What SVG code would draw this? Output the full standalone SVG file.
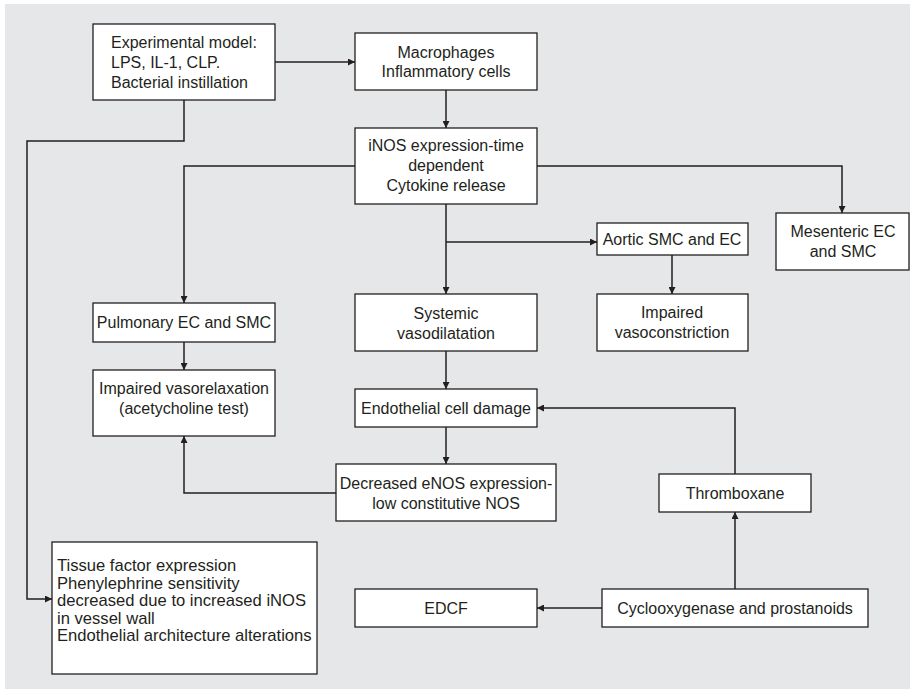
<svg xmlns="http://www.w3.org/2000/svg" width="910" height="689" viewBox="0 0 910 689">
<style>
.box{fill:#fff;stroke:#231f20;stroke-width:1.3}
.t{font-family:"Liberation Sans",Arial,sans-serif;font-size:16px;fill:#231f20}
.c{text-anchor:middle}
.big{font-size:16.6px}
.ln{fill:none;stroke:#231f20;stroke-width:1.5}
</style>
<defs>
<marker id="ah" viewBox="0 0 10 10" refX="10" refY="5" markerWidth="9" markerHeight="7" markerUnits="userSpaceOnUse" orient="auto">
<path d="M0,0 L10,5 L0,10 z" fill="#231f20"/>
</marker>
</defs>
<rect x="0" y="0" width="910" height="689" fill="#fff"/>
<rect x="5" y="4" width="905" height="685" fill="#e6e7e8"/>
<g id="connectors">
<path class="ln" d="M275,62 H355" marker-end="url(#ah)"/>
<path class="ln" d="M446,90 V128" marker-end="url(#ah)"/>
<path class="ln" d="M537,166 H842 V213" marker-end="url(#ah)"/>
<path class="ln" d="M355,166 H184 V303" marker-end="url(#ah)"/>
<path class="ln" d="M446,204 V294" marker-end="url(#ah)"/>
<path class="ln" d="M446,242 H597" marker-end="url(#ah)"/>
<path class="ln" d="M672,255 V294" marker-end="url(#ah)"/>
<path class="ln" d="M184,342 V370" marker-end="url(#ah)"/>
<path class="ln" d="M446,351 V389" marker-end="url(#ah)"/>
<path class="ln" d="M446,427 V464" marker-end="url(#ah)"/>
<path class="ln" d="M336,493 H184 V436" marker-end="url(#ah)"/>
<path class="ln" d="M735,474 V408 H537" marker-end="url(#ah)"/>
<path class="ln" d="M735,589 V512" marker-end="url(#ah)"/>
<path class="ln" d="M602,608 H537" marker-end="url(#ah)"/>
<path class="ln" d="M184,100 V141 H27 V599 H52" marker-end="url(#ah)"/>
</g>
<g id="experimental">
<rect class="box" x="93" y="24" width="182" height="76"/>
<text class="t" x="111" y="48">Experimental model:</text>
<text class="t" x="111" y="68">LPS, IL-1, CLP.</text>
<text class="t" x="111" y="88">Bacterial instillation</text>
</g>
<g id="macrophages">
<rect class="box" x="355" y="33" width="182" height="57"/>
<text class="t c" x="446" y="58">Macrophages</text>
<text class="t c" x="446" y="77">Inflammatory cells</text>
</g>
<g id="inos">
<rect class="box" x="355" y="128" width="182" height="76"/>
<text class="t c" x="446" y="151">iNOS expression-time</text>
<text class="t c" x="446" y="171">dependent</text>
<text class="t c" x="446" y="191">Cytokine release</text>
</g>
<g id="mesenteric">
<rect class="box" x="776" y="213" width="133" height="57"/>
<text class="t c" x="843" y="237">Mesenteric EC</text>
<text class="t c" x="843" y="257">and SMC</text>
</g>
<g id="aortic">
<rect class="box" x="597" y="223" width="151" height="32"/>
<text class="t c" x="672" y="245">Aortic SMC and EC</text>
</g>
<g id="impaired-vasoconstriction">
<rect class="box" x="597" y="294" width="151" height="57"/>
<text class="t c" x="672" y="318">Impaired</text>
<text class="t c" x="672" y="338">vasoconstriction</text>
</g>
<g id="systemic">
<rect class="box" x="355" y="294" width="182" height="57"/>
<text class="t c" x="446" y="319">Systemic</text>
<text class="t c" x="446" y="339">vasodilatation</text>
</g>
<g id="pulmonary">
<rect class="box" x="93" y="303" width="182" height="39"/>
<text class="t c" x="184" y="328">Pulmonary EC and SMC</text>
</g>
<g id="impaired-vasorelaxation">
<rect class="box" x="93" y="370" width="182" height="66"/>
<text class="t c" x="184" y="394">Impaired vasorelaxation</text>
<text class="t c" x="184" y="414">(acetycholine test)</text>
</g>
<g id="endothelial">
<rect class="box" x="355" y="389" width="182" height="38"/>
<text class="t c" x="446" y="414">Endothelial cell damage</text>
</g>
<g id="decreased">
<rect class="box" x="336" y="464" width="220" height="57"/>
<text class="t c" x="446" y="489">Decreased eNOS expression-</text>
<text class="t c" x="446" y="509">low constitutive NOS</text>
</g>
<g id="thromboxane">
<rect class="box" x="659" y="474" width="152" height="38"/>
<text class="t c" x="735" y="499">Thromboxane</text>
</g>
<g id="cyclooxygenase">
<rect class="box" x="602" y="589" width="266" height="38"/>
<text class="t c" x="735" y="614">Cyclooxygenase and prostanoids</text>
</g>
<g id="edcf">
<rect class="box" x="355" y="589" width="182" height="38"/>
<text class="t c" x="446" y="614">EDCF</text>
</g>
<g id="tissue">
<rect class="box" x="52" y="542" width="265" height="132"/>
<text class="t big" x="57" y="571">Tissue factor expression</text>
<text class="t big" x="57" y="588.5">Phenylephrine sensitivity</text>
<text class="t big" x="57" y="606">decreased due to increased iNOS</text>
<text class="t big" x="57" y="623.5">in vessel wall</text>
<text class="t big" x="57" y="641">Endothelial architecture alterations</text>
</g>
</svg>
